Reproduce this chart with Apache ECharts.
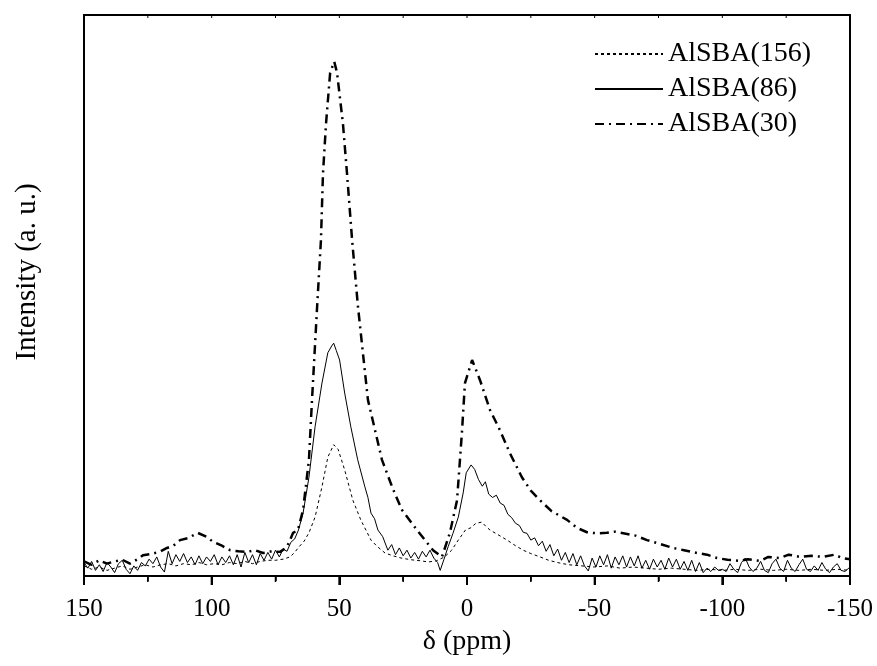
<!DOCTYPE html>
<html>
<head>
<meta charset="utf-8">
<title>27Al MAS NMR spectra</title>
<script src="https://cdn.jsdelivr.net/npm/echarts@6/dist/echarts.min.js"></script>
<style>
  html, body { margin: 0; padding: 0; background: #fff; }
  #chart { width: 877px; height: 666px; }
</style>
</head>
<body>
<div id="chart"></div>
<script>
// Chemical shift (ppm) and intensity (a. u.) for each sample
const seriesNames = ['AlSBA(156)', 'AlSBA(86)', 'AlSBA(30)'];
const xTicks = [150, 100, 50, 0, -50, -100, -150];
const xMinorTicks = [125, 75, 25, -25, -75, -125];

const ppm156 = [150, 147, 144, 141, 138, 135, 132, 129, 126, 123, 120, 117, 114, 111, 108, 105, 102, 99, 96, 93, 90, 87, 84, 81, 78, 75, 72, 69.3, 67.5, 65.8, 63.8, 61.9, 59.5, 56.8, 54.5, 52.2, 50.5, 47.9, 44.7, 41.6, 37.6, 35, 32.1, 29, 25.8, 22, 18, 15.2, 12, 8.8, 6, 3.4, 0.6, -1.5, -3.5, -5.8, -7.5, -9, -12, -15.7, -19, -22, -25, -28.6, -32, -36.4, -40, -45, -50, -55, -60, -65, -70, -75, -80, -85, -90, -95, -100, -105, -110, -115, -120, -125, -130, -135, -140, -145, -150];
const int156 = [1.8, 1.2, 1.6, 1.0, 1.4, 1.8, 1.2, 1.6, 2.0, 1.6, 2.0, 2.2, 1.8, 2.2, 2.0, 2.4, 2.0, 2.2, 2.0, 2.4, 2.2, 2.6, 2.2, 2.6, 2.8, 2.8, 3.0, 3.4, 4.2, 5.2, 6.2, 7.7, 10.5, 15.9, 21.2, 23.4, 22.6, 18.9, 13.5, 10.0, 6.4, 5.2, 4.1, 3.6, 3.2, 2.9, 2.7, 2.5, 2.7, 3.4, 4.6, 6.4, 8.2, 8.6, 9.4, 9.6, 8.8, 8.2, 7.4, 6.4, 5.4, 4.6, 4.0, 3.4, 2.8, 2.3, 2.0, 1.8, 1.6, 1.8, 1.4, 1.6, 1.4, 1.2, 1.4, 1.2, 1.0, 1.2, 1.0, 1.2, 1.0, 1.2, 1.0, 1.2, 1.0, 1.2, 1.0, 1.2, 1.0];

const ppm86 = [150, 148.5, 147, 145.5, 144, 142.5, 141, 139.5, 138, 136.5, 135, 133.5, 132, 130.5, 129, 127.5, 126, 124.5, 123, 121.5, 120, 118.5, 117, 115.5, 114, 112.5, 111, 109.5, 108, 106.5, 105, 103.5, 102, 100.5, 99, 97.5, 96, 94.5, 93, 91.5, 90, 88.5, 87, 85.5, 84, 82.5, 81, 79.5, 78, 76.5, 75, 73.5, 72, 70.5, 69, 67.5, 66, 64.2, 61.9, 59.5, 56.8, 54.5, 53, 52.2, 51.2, 49.9, 47.9, 45.5, 42.8, 40, 38.8, 37.6, 36.2, 34.9, 33, 31, 29.5, 28, 26.5, 25, 23.5, 22, 20.5, 19, 17.5, 16, 14.5, 13, 11.5, 10.5, 9, 7.4, 5.5, 3.4, 1.5, 0.3, -1.6, -3, -4.5, -6, -7.2, -8.5, -10, -11.5, -13, -14.5, -16, -17.5, -19, -20.5, -22, -23.5, -25, -26.5, -28, -29.5, -31, -32.5, -34, -35.5, -37, -38.5, -40, -41.5, -43, -44.5, -46, -47.5, -49, -50.5, -52, -53.5, -55, -56.5, -58, -59.5, -61, -62.5, -64, -65.5, -67, -68.5, -70, -71.5, -73, -74.5, -76, -77.5, -79, -80.5, -82, -83.5, -85, -86.5, -88, -89.5, -91, -92.5, -94, -95.5, -97, -98.5, -100, -101.5, -103, -104.5, -106, -107.5, -109, -110.5, -112, -113.5, -115, -116.5, -118, -119.5, -121, -122.5, -124, -125.5, -127, -128.5, -130, -131.5, -133, -134.5, -136, -137.5, -139, -140.5, -142, -143.5, -145, -146.5, -148, -149.5, -150];
const int86 = [2.4, 1.4, 2.6, 1.0, 2.0, 0.8, 2.4, 1.6, 0.6, 2.2, 2.8, 1.2, 0.4, 1.8, 1.0, 2.4, 1.8, 3.0, 2.2, 3.4, 1.6, 0.7, 4.4, 2.2, 3.8, 2.6, 4.0, 2.4, 3.4, 2.0, 3.6, 2.2, 3.4, 2.6, 3.8, 2.0, 3.4, 2.4, 3.6, 2.0, 3.8, 1.6, 4.2, 2.4, 3.8, 2.0, 4.0, 2.8, 4.2, 3.0, 4.6, 3.4, 4.8, 4.4, 6.0, 6.6, 8.2, 11.2, 17.6, 26.6, 34.4, 39.8, 41.0, 41.5, 40.2, 38.5, 32.6, 26.6, 20.7, 15.9, 14.0, 11.2, 10.2, 8.2, 7.0, 4.6, 5.6, 3.8, 5.0, 3.6, 4.6, 3.2, 4.2, 3.0, 4.4, 3.4, 4.6, 3.2, 2.4, 1.0, 3.0, 5.2, 7.6, 10.5, 14.8, 18.4, 19.8, 19.0, 17.2, 16.0, 16.8, 14.6, 14.0, 14.4, 13.0, 12.6, 11.0, 10.4, 9.4, 9.0, 7.8, 7.6, 6.4, 6.8, 5.4, 6.2, 4.4, 5.6, 3.6, 4.8, 2.8, 4.2, 2.4, 4.0, 2.0, 3.6, 1.8, 0.9, 3.2, 1.6, 3.6, 2.0, 3.8, 1.4, 3.4, 2.0, 3.6, 1.6, 3.4, 1.8, 3.6, 1.4, 2.8, 1.2, 3.0, 1.6, 2.8, 1.2, 3.2, 1.6, 3.0, 1.2, 2.6, 1.0, 2.8, 0.8, 2.4, 0.6, 1.4, 0.8, 1.6, 1.0, 1.2, 0.8, 2.2, 1.2, 0.6, 2.4, 3.2, 1.6, 0.8, 1.4, 2.6, 1.0, 0.6, 2.2, 3.0, 1.4, 0.8, 2.8, 1.4, 0.8, 2.0, 3.0, 1.2, 0.8, 1.8, 1.0, 2.4, 1.2, 0.6, 1.6, 2.2, 1.0, 0.8, 1.4, 1.0];

const ppm30 = [150, 147, 144, 141, 138, 135, 132, 129, 126.9, 123, 120, 117.5, 115, 112.4, 109, 105.5, 102, 99.5, 96, 92.8, 89.5, 86.2, 83, 79.9, 76.5, 73.2, 70.5, 68.1, 66.2, 64.2, 61.9, 60.7, 58.7, 57.2, 56.4, 55.2, 53.6, 52, 50.9, 48.6, 47, 45, 42.7, 38.8, 33.3, 29, 25.5, 19.6, 13.3, 9.8, 6.7, 3.9, 2, 0.8, -2, -5.1, -9, -12.9, -16.8, -21.5, -25, -28.6, -33, -39.2, -43, -47, -51, -54.8, -58, -62.7, -66, -70.5, -75, -80.7, -85, -90.1, -94, -97.9, -102, -106.9, -110, -114.8, -118, -122.6, -126, -130.4, -135, -139.4, -144, -147, -150];
const int30 = [2.6, 2.0, 2.8, 2.2, 2.6, 2.9, 2.2, 3.0, 3.7, 4.0, 4.4, 5.0, 5.4, 6.4, 6.8, 7.7, 7.0, 6.1, 5.4, 4.6, 4.4, 4.3, 4.6, 4.1, 4.4, 4.3, 5.2, 7.7, 8.2, 11.8, 20.7, 31.4, 48.0, 59.9, 71.8, 80.7, 89.7, 91.7, 89.7, 80.7, 71.8, 59.9, 48.0, 31.4, 20.7, 15.5, 11.8, 8.2, 4.6, 3.4, 7.7, 13.5, 25.5, 34.4, 38.5, 34.9, 29.6, 26.0, 21.9, 17.6, 15.2, 13.5, 11.6, 10.0, 8.6, 7.8, 7.6, 7.7, 7.9, 7.5, 7.2, 6.4, 5.8, 5.0, 4.6, 4.1, 3.8, 3.2, 2.9, 2.7, 3.0, 2.7, 3.4, 3.2, 3.8, 3.4, 3.6, 3.4, 3.8, 3.2, 3.0];

const zip = (xs, ys) => xs.map((x, i) => [x, ys[i]]);

const FONT = '"Liberation Serif", "Times New Roman", serif';
const chart = echarts.init(document.getElementById('chart'), null, { renderer: 'canvas' });

chart.setOption({
  animation: false,
  backgroundColor: '#fff',
  grid: {
    left: 84, right: 27, top: 15, bottom: 90,
    containLabel: false, outerBoundsMode: 'none',
    show: true, borderColor: '#000', borderWidth: 2, backgroundColor: 'transparent'
  },
  legend: {
    orient: 'vertical',
    left: 589,
    top: 34,
    itemWidth: 68,
    itemHeight: 14,
    itemGap: 5,
    data: seriesNames,
    itemStyle: { opacity: 0 },
    textStyle: { fontFamily: FONT, fontSize: 28, color: '#000', lineHeight: 30 }
  },
  xAxis: {
    type: 'value', min: -150, max: 150, interval: 50, inverse: true,
    position: 'bottom',
    name: 'δ (ppm)',
    nameLocation: 'middle',
    nameGap: 52,
    nameMoveOverlap: false,
    nameTextStyle: { fontFamily: FONT, fontSize: 28, color: '#000' },
    axisLine: { show: true, onZero: false, lineStyle: { color: '#000', width: 2 } },
    axisTick: { show: true, inside: false, length: 9, lineStyle: { color: '#000', width: 2 } },
    minorTick: { show: true, splitNumber: 2, length: 5, lineStyle: { color: '#000', width: 1.5 } },
    axisLabel: { show: true, margin: 21, fontFamily: FONT, fontSize: 25, color: '#000' },
    splitLine: { show: false }
  },
  yAxis: {
    type: 'value', min: 0, max: 100, position: 'left',
    axisLine: { show: true, onZero: false, lineStyle: { color: '#000', width: 2 } },
    axisTick: { show: false }, axisLabel: { show: false }, splitLine: { show: false }
  },
  series: [
    {
      name: seriesNames[0], type: 'line', symbol: 'none', clip: true,
      data: zip(ppm156, int156),
      lineStyle: { color: '#000', width: 1, type: [3, 3] },
      itemStyle: { color: '#000' }
    },
    {
      name: seriesNames[1], type: 'line', symbol: 'none', clip: true,
      data: zip(ppm86, int86),
      lineStyle: { color: '#000', width: 1, type: 'solid' },
      itemStyle: { color: '#000' }
    },
    {
      name: seriesNames[2], type: 'line', symbol: 'none', clip: true,
      data: zip(ppm30, int30),
      lineStyle: { color: '#000', width: 2.5, type: [9, 5, 2, 5] },
      itemStyle: { color: '#000' }
    }
  ]
});

// Frame ticks as small filled bars: outward on the bottom edge, short inward
// marks on the top edge, positioned through the x axis scale.
const yBottom = chart.convertToPixel({ yAxisIndex: 0 }, 0);
const yTop = chart.convertToPixel({ yAxisIndex: 0 }, 100);
const tickBar = (v, y0, len, w) => {
  const x = chart.convertToPixel({ xAxisIndex: 0 }, v);
  return { type: 'rect', silent: true, z: 100, zlevel: 1,
           shape: { x: x - w / 2, y: y0, width: w, height: len },
           style: { fill: '#000' } };
};
const frameTicks = []
  .concat(xTicks.map(v => tickBar(v, yBottom, 9, 2)))
  .concat(xMinorTicks.map(v => tickBar(v, yBottom, 6, 1.5)))
  .concat(xTicks.concat(xMinorTicks).map(v => tickBar(v, yTop, 3, 1)));

chart.setOption({
  graphic: [{
    type: 'text',
    x: 27, y: 272,
    rotation: Math.PI / 2,
    style: {
      text: 'Intensity (a. u.)',
      font: '29px ' + FONT,
      fill: '#000',
      textAlign: 'center',
      textVerticalAlign: 'middle'
    }
  }].concat(frameTicks)
});
</script>
</body>
</html>
